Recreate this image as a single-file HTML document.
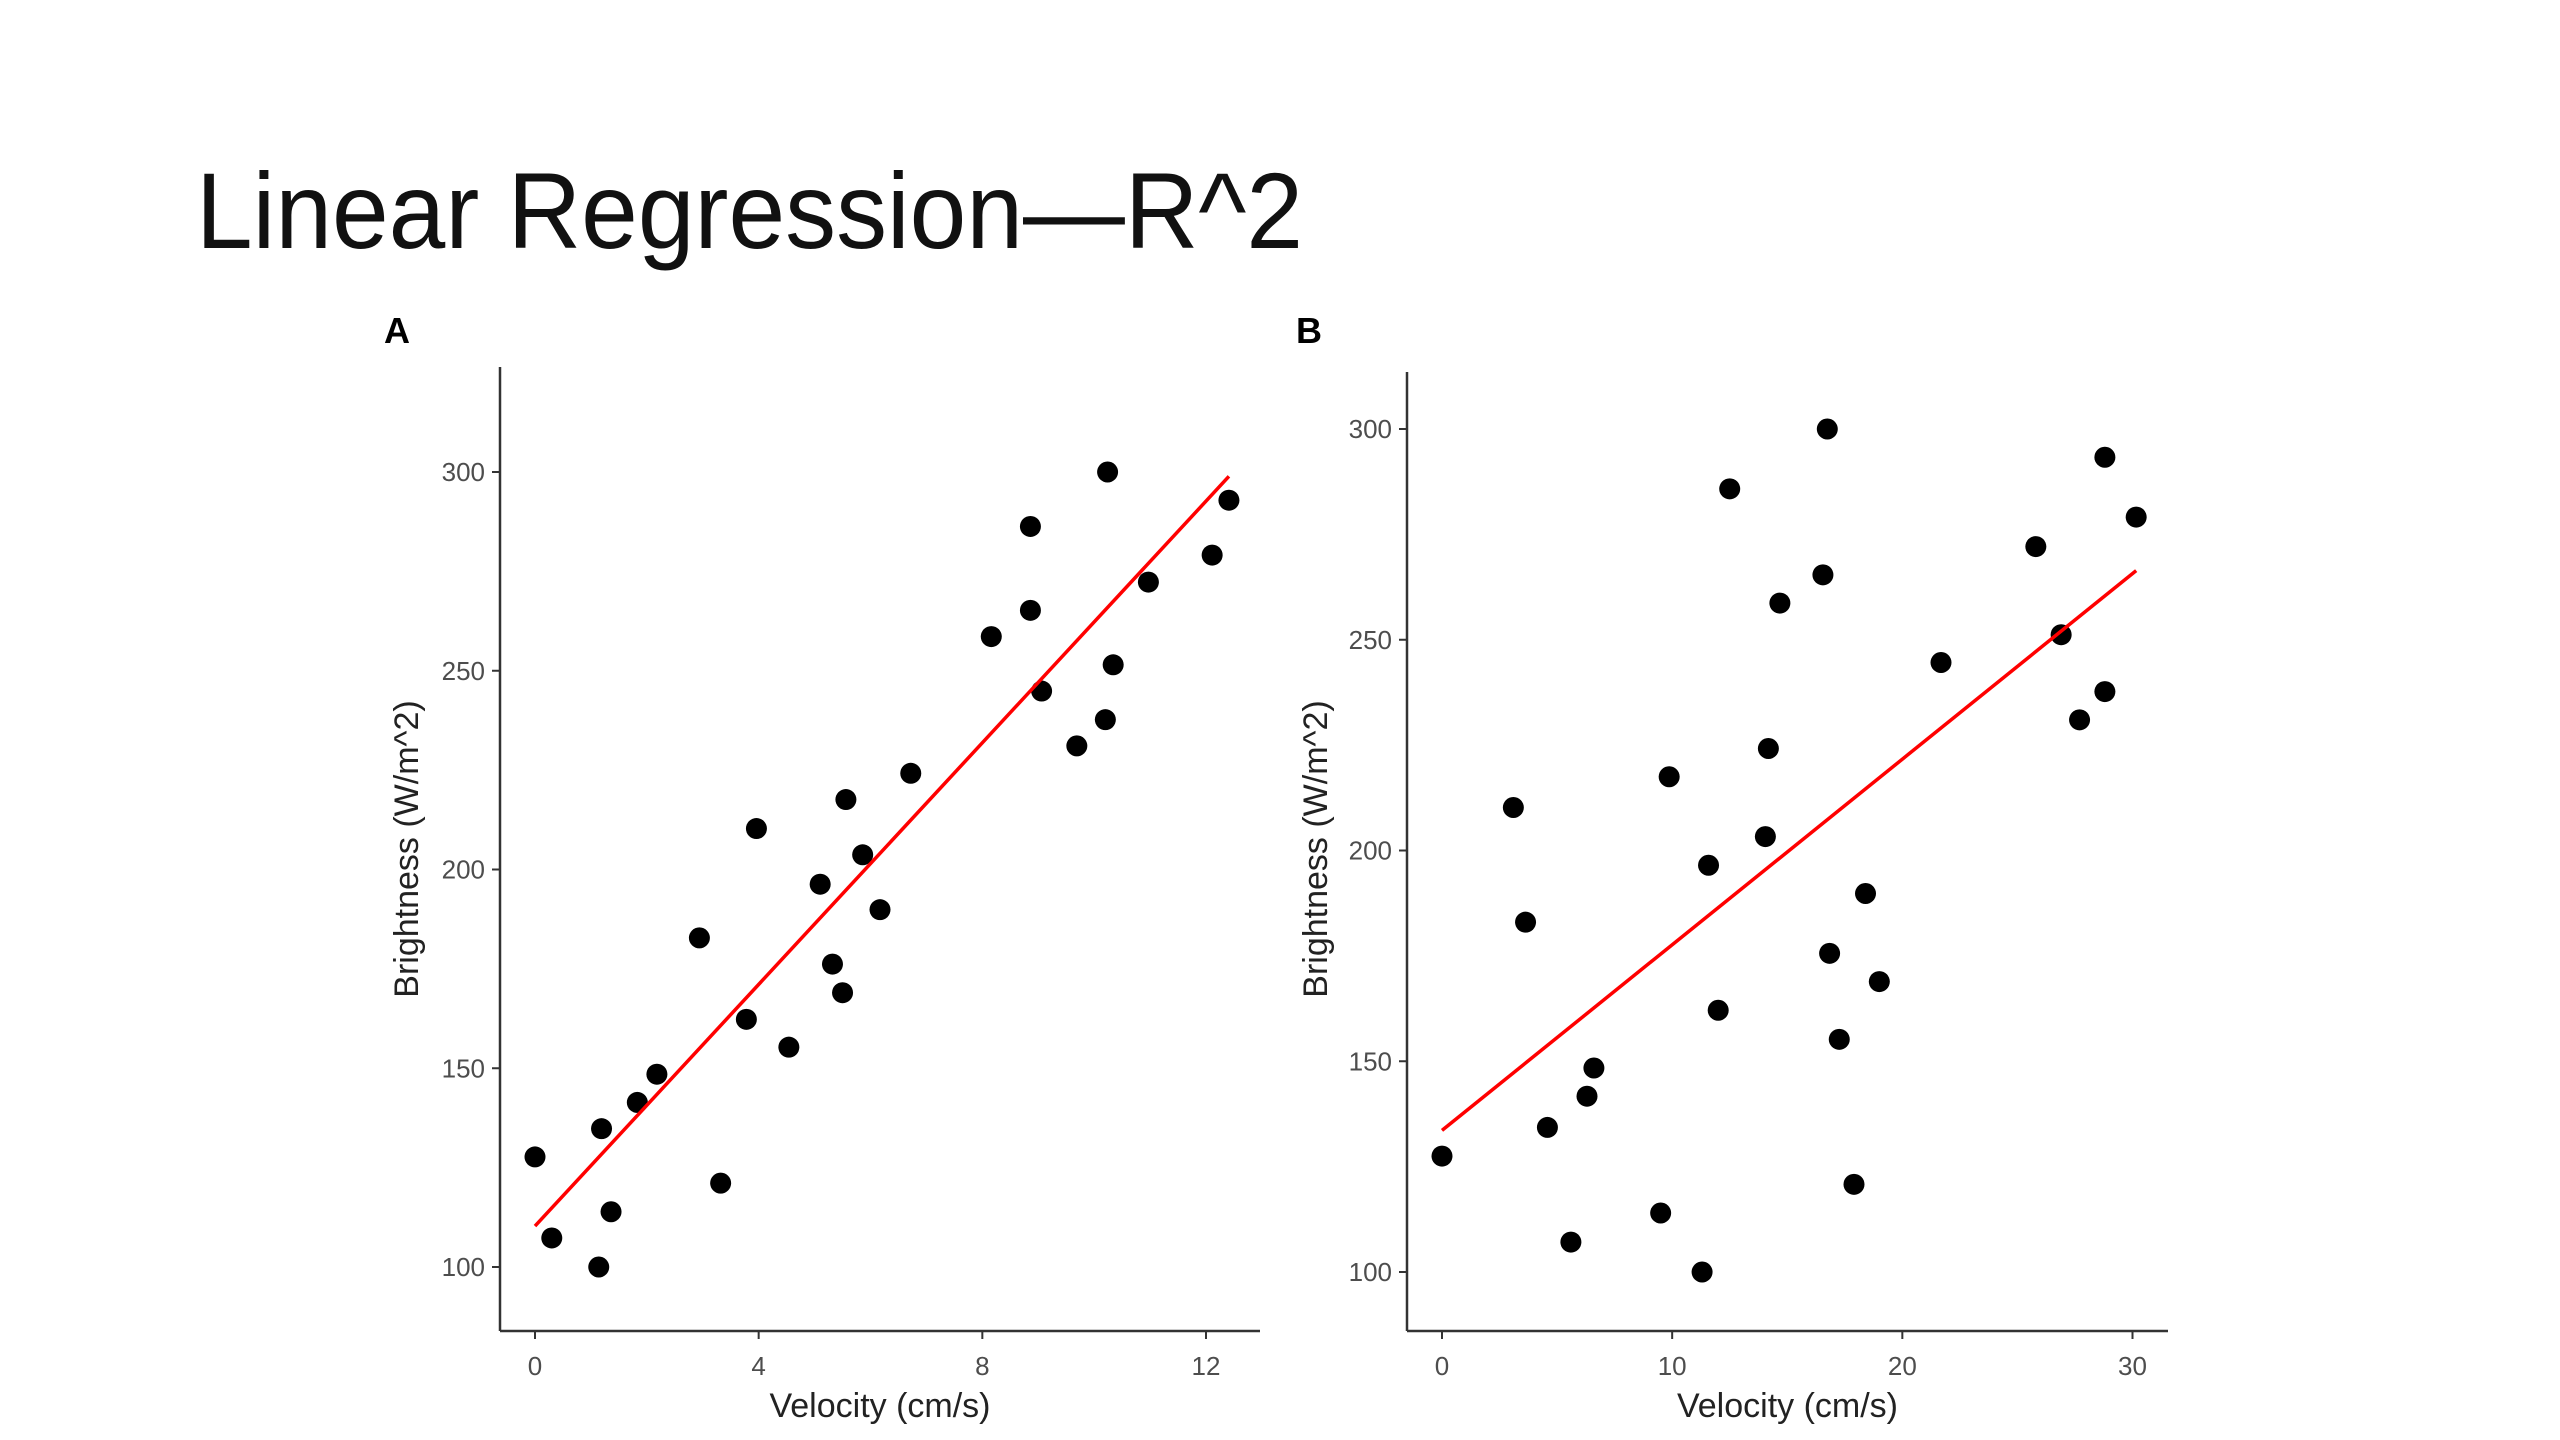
<!DOCTYPE html>
<html><head><meta charset="utf-8"><style>
html,body{margin:0;padding:0;background:#fff;}
svg{display:block;font-family:"Liberation Sans",Arial,sans-serif;}
</style></head><body>
<svg id="s" width="2560" height="1440" viewBox="0 0 2560 1440">
<text x="196" y="248" font-size="108" fill="#111" textLength="1107" lengthAdjust="spacingAndGlyphs">Linear Regression—R^2</text>
<g id="ga"></g>
<g id="gb"></g>
</svg>
<script>
const aX=[0,0.3,1.14,1.19,1.36,1.83,2.18,2.94,3.32,3.78,3.96,4.54,5.1,5.32,5.5,5.56,5.86,6.17,6.72,8.16,8.86,8.86,9.06,9.69,10.2,10.24,10.34,10.97,12.11,12.41];
const aY=[127.7,107.3,100,134.8,113.9,141.4,148.5,182.8,121.1,162.3,210.3,155.3,196.3,176.2,169,217.6,203.7,189.9,224.2,258.6,286.3,265.2,244.9,231.1,237.7,300,251.5,272.3,279.1,292.9];
const aFitX=[0,12.41];
const aFitY=[110.3,298.9];
const aXTicks=[0,4,8,12];
const bX=[0,3.1,3.63,4.58,5.6,6.3,6.6,9.5,9.87,11.3,11.58,12,12.5,14.05,14.18,14.68,16.55,16.74,16.84,17.26,17.9,18.4,19,21.68,25.8,26.9,27.7,28.8,28.8,30.16];
const bY=[127.5,210.2,183,134.3,107.1,141.7,148.4,114,217.5,100,196.5,162.1,285.8,203.3,224.2,258.7,265.4,300,175.6,155.2,120.8,189.8,168.9,244.6,272.1,251.2,231,237.7,293.3,279.1];
const bFitX=[0,30.16];
const bFitY=[133.6,266.4];
const bXTicks=[0,10,20,30];
const yTicks=[100,150,200,250,300];
const NS="http://www.w3.org/2000/svg";
function mk(g,tag,at,txt){const e=document.createElementNS(NS,tag);for(const k in at)e.setAttribute(k,at[k]);if(txt!==undefined)e.textContent=txt;g.appendChild(e);return e;}
function panel(g,cfg,xs,ys,fx,fy,xt,label){
  const sx=v=>cfg.x0+(v-0)*(cfg.x1px-cfg.x0)/cfg.x1v;
  const sy=v=>cfg.y100+(v-100)*(cfg.y300-cfg.y100)/200;
  let e;
  e=mk(g,'text',{x:cfg.lx,y:cfg.ly,'font-size':36,'font-weight':'bold',fill:'#000'},label);
  
  
  e=mk(g,'line',{x1:cfg.ax,y1:cfg.top,x2:cfg.ax,y2:cfg.bot,stroke:'#333','stroke-width':2.5});
  
  
  e=mk(g,'line',{x1:cfg.ax,y1:cfg.bot,x2:cfg.right,y2:cfg.bot,stroke:'#333','stroke-width':2.5});
  
  
  yTicks.forEach(t=>{const y=sy(t);
    e=mk(g,'line',{x1:cfg.ax-8,y1:y,x2:cfg.ax,y2:y,stroke:'#333','stroke-width':2});
    
    
    e=mk(g,'text',{x:cfg.ax-15,y:y+9,'font-size':26,fill:'#4d4d4d','text-anchor':'end'},String(t));
    
    
  });
  xt.forEach(t=>{const x=sx(t);
    e=mk(g,'line',{x1:x,y1:cfg.bot,x2:x,y2:cfg.bot+8,stroke:'#333','stroke-width':2});
    
    
    e=mk(g,'text',{x:x,y:cfg.bot+44,'font-size':26,fill:'#4d4d4d','text-anchor':'middle'},String(t));
    
    
  });
  e=mk(g,'text',{x:(cfg.ax+cfg.right)/2,y:cfg.bot+86,'font-size':34,fill:'#222','text-anchor':'middle'},'Velocity (cm/s)');
  
  
  const cy=849;
  e=mk(g,'text',{x:cfg.tx,y:cy,'font-size':34,fill:'#222','text-anchor':'middle',transform:`rotate(-90 ${cfg.tx} ${cy})`},'Brightness (W/m^2)');
  
  
  xs.forEach((v,i)=>{
    e=mk(g,'circle',{cx:sx(v),cy:sy(ys[i]),r:10.5,fill:'#000'});
    
    
  });
  e=mk(g,'line',{x1:sx(fx[0]),y1:sy(fy[0]),x2:sx(fx[1]),y2:sy(fy[1]),stroke:'#ff0000','stroke-width':3.5});
  
  
}
panel(document.getElementById('ga'),{x0:535,x1px:1206,x1v:12,y100:1267,y300:472,ax:500,top:367,bot:1331,right:1260,lx:384,ly:343,tx:418},aX,aY,aFitX,aFitY,aXTicks,'A');
panel(document.getElementById('gb'),{x0:1442,x1px:2132.5,x1v:30,y100:1272,y300:429,ax:1407,top:372,bot:1331,right:2168,lx:1296,ly:343,tx:1327},bX,bY,bFitX,bFitY,bXTicks,'B');
</script>
</body></html>
